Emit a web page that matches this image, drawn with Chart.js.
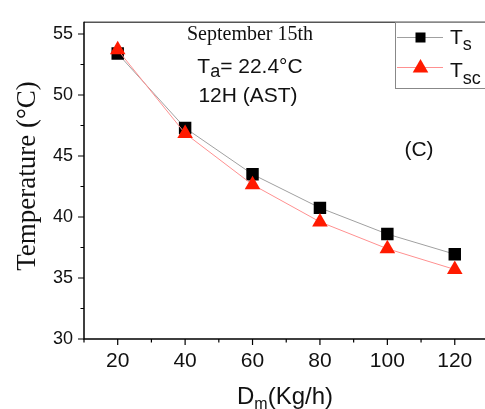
<!DOCTYPE html>
<html>
<head>
<meta charset="utf-8">
<script src="https://cdn.jsdelivr.net/npm/chart.js@4/dist/chart.umd.min.js"></script>
<style>
html,body{margin:0;padding:0;background:#fff;}
canvas{display:block;}
</style>
</head>
<body>
<canvas id="c" width="485" height="409"></canvas>
<script>
// ---- data ----
const flowRates = [20, 40, 60, 80, 100, 120];           // D_m (Kg/h)
const tsValues  = [53.4, 47.3, 43.5, 40.75, 38.6, 36.95]; // T_s (°C)
const tscValues = [53.7, 46.85, 42.65, 39.6, 37.4, 35.7]; // T_sc (°C)
const xTickValues = [20, 40, 60, 80, 100, 120];
const xMinorTicks = [10, 30, 50, 70, 90, 110];
const yTickValues = [30, 35, 40, 45, 50, 55];
const yMinorTicks = [32.5, 37.5, 42.5, 47.5, 52.5];

const SANS = '"Liberation Sans", Arial, sans-serif';
const SERIF = '"Liberation Serif", "Times New Roman", serif';

function textWithSub(ctx, x, y, main, sub, mainSize, subSize, subDy) {
  ctx.textAlign = 'left';
  ctx.textBaseline = 'alphabetic';
  ctx.font = mainSize + 'px ' + SANS;
  const w1 = ctx.measureText(main).width;
  ctx.fillText(main, x, y);
  ctx.font = subSize + 'px ' + SANS;
  ctx.fillText(sub, x + w1, y + subDy);
}

const decor = {
  id: 'decor',
  afterDraw(chart) {
    const ctx = chart.ctx;
    const xs = chart.scales.x, ys = chart.scales.y;
    const a = chart.chartArea;
    ctx.save();
    // top frame line
    ctx.strokeStyle = '#555';
    ctx.lineWidth = 1.5;
    ctx.beginPath();
    ctx.moveTo(a.left, a.top + 0.5);
    ctx.lineTo(chart.width, a.top + 0.5);
    ctx.stroke();
    // axes
    ctx.strokeStyle = '#000';
    ctx.lineWidth = 1.5;
    ctx.beginPath();
    ctx.moveTo(a.left, a.top);
    ctx.lineTo(a.left, a.bottom);
    ctx.lineTo(chart.width, a.bottom);
    ctx.stroke();
    // ticks
    ctx.lineWidth = 1.2;
    ctx.beginPath();
    yTickValues.forEach(v => { const p = ys.getPixelForValue(v); ctx.moveTo(a.left, p); ctx.lineTo(a.left - 6, p); });
    yMinorTicks.forEach(v => { const p = ys.getPixelForValue(v); ctx.moveTo(a.left, p); ctx.lineTo(a.left - 3.5, p); });
    xTickValues.forEach(v => { const p = xs.getPixelForValue(v); ctx.moveTo(p, a.bottom); ctx.lineTo(p, a.bottom + 6); });
    xMinorTicks.forEach(v => { const p = xs.getPixelForValue(v); ctx.moveTo(p, a.bottom); ctx.lineTo(p, a.bottom + 3.5); });
    ctx.stroke();

    ctx.fillStyle = '#111';
    // y title
    ctx.save();
    ctx.translate(35, 176);
    ctx.rotate(-Math.PI / 2);
    ctx.font = '27px ' + SERIF;
    ctx.textAlign = 'center';
    ctx.textBaseline = 'alphabetic';
    ctx.fillText('Temperature (°C)', 0, 0);
    ctx.restore();
    // x title
    ctx.font = '24px ' + SANS;
    const wD = ctx.measureText('D').width;
    ctx.font = '16px ' + SANS;
    const wm = ctx.measureText('m').width;
    ctx.font = '24px ' + SANS;
    const wr = ctx.measureText('(Kg/h)').width;
    let x0 = 285 - (wD + wm + wr) / 2;
    ctx.textAlign = 'left';
    ctx.textBaseline = 'alphabetic';
    ctx.fillText('D', x0, 404);
    ctx.font = '16px ' + SANS;
    ctx.fillText('m', x0 + wD, 409);
    ctx.font = '24px ' + SANS;
    ctx.fillText('(Kg/h)', x0 + wD + wm, 404);

    // annotations
    ctx.font = '20px ' + SERIF;
    ctx.textAlign = 'center';
    ctx.fillText('September 15th', 250, 40);
    ctx.font = '21px ' + SANS;
    const wT = ctx.measureText('T').width;
    const wRest = ctx.measureText('= 22.4°C').width;
    ctx.font = '18px ' + SANS;
    const wa = ctx.measureText('a').width;
    let tx = 250 - (wT + wa + wRest) / 2;
    ctx.textAlign = 'left';
    ctx.font = '21px ' + SANS;
    ctx.fillText('T', tx, 73);
    ctx.font = '18px ' + SANS;
    ctx.fillText('a', tx + wT, 77);
    ctx.font = '21px ' + SANS;
    ctx.fillText('= 22.4°C', tx + wT + wa, 73);
    ctx.textAlign = 'center';
    ctx.fillText('12H (AST)', 248, 101.5);
    ctx.fillText('(C)', 419, 156);

    // legend
    ctx.strokeStyle = '#888';
    ctx.lineWidth = 1;
    ctx.strokeRect(395.5, 22.5, 120, 66);
    ctx.strokeStyle = '#a0a0a0';
    ctx.beginPath(); ctx.moveTo(397, 37.5); ctx.lineTo(443, 37.5); ctx.stroke();
    ctx.fillStyle = '#000';
    ctx.fillRect(420.5 - 5, 37.5 - 5, 10, 10);
    ctx.fillStyle = '#111';
    textWithSub(ctx, 450, 43.5, 'T', 's', 21, 18, 6);
    ctx.strokeStyle = '#ff9090';
    ctx.beginPath(); ctx.moveTo(397, 67.5); ctx.lineTo(443, 67.5); ctx.stroke();
    ctx.fillStyle = '#ff1a00';
    const r = 9;
    ctx.beginPath();
    ctx.moveTo(420.5, 68 - r);
    ctx.lineTo(420.5 + r * 0.866, 68 + r / 2);
    ctx.lineTo(420.5 - r * 0.866, 68 + r / 2);
    ctx.closePath();
    ctx.fill();
    ctx.fillStyle = '#111';
    textWithSub(ctx, 450, 77, 'T', 'sc', 21, 18, 7);
    ctx.restore();
  }
};

new Chart(document.getElementById('c'), {
  type: 'line',
  data: {
    datasets: [
      {
        label: 'Tsc',
        data: flowRates.map((x, i) => ({ x: x, y: tscValues[i] })),
        borderColor: '#ff9090',
        borderWidth: 1,
        pointStyle: 'triangle',
        pointRadius: 9,
        pointBackgroundColor: '#ff1a00',
        pointBorderColor: '#ff1a00',
        pointBorderWidth: 0,
        tension: 0
      },
      {
        label: 'Ts',
        data: flowRates.map((x, i) => ({ x: x, y: tsValues[i] })),
        borderColor: '#a0a0a0',
        borderWidth: 1,
        pointStyle: 'rect',
        pointRadius: 8.8,
        pointBackgroundColor: '#000',
        pointBorderColor: '#000',
        pointBorderWidth: 0,
        tension: 0
      }
    ]
  },
  options: {
    responsive: false,
    animation: false,
    devicePixelRatio: 1,
    layout: { padding: { top: 14, left: 0, right: 0, bottom: 0 } },
    plugins: { legend: { display: false }, tooltip: { enabled: false } },
    scales: {
      x: {
        type: 'linear',
        min: 10,
        max: 126.3,
        grid: { display: false, drawTicks: false, tickLength: 0 },
        border: { display: false },
        afterBuildTicks: s => { s.ticks = xTickValues.map(v => ({ value: v })); },
        afterFit: s => { s.height = 70; },
        ticks: { font: { family: SANS, size: 21 }, color: '#111', padding: 10, maxRotation: 0, autoSkip: false }
      },
      y: {
        type: 'linear',
        min: 30,
        max: 56,
        grid: { display: false, drawTicks: false, tickLength: 0 },
        border: { display: false },
        afterBuildTicks: s => { s.ticks = yTickValues.map(v => ({ value: v })); },
        afterFit: s => { s.width = 84; },
        ticks: { font: { family: SANS, size: 18 }, color: '#111', padding: 11 }
      }
    }
  },
  plugins: [decor]
});
</script>
</body>
</html>
